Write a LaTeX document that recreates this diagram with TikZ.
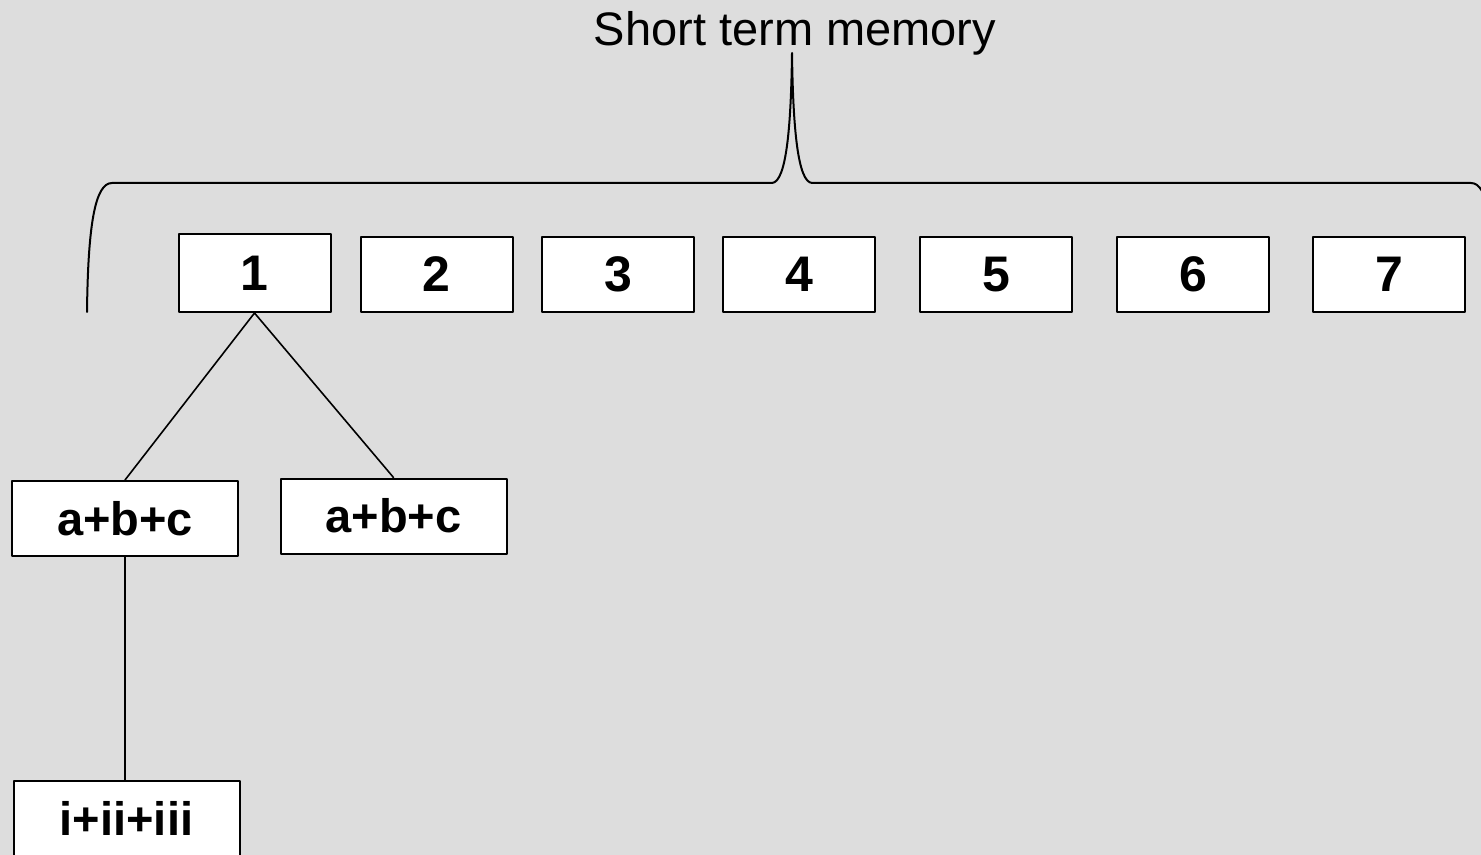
\documentclass[tikz,border=0pt]{standalone}
\usepackage{fontspec}
\setmainfont{Liberation Sans}
\definecolor{bg}{HTML}{DDDDDD}
\begin{document}
\begin{tikzpicture}[x=.5pt, y=-.5pt, line join=round, line cap=round,
    big/.style={font=\fontsize{23.5}{28}\selectfont},
    cell/.style={draw=black, line width=1pt, fill=white, inner sep=0pt,
        minimum width=76pt, minimum height=37.5pt, font=\fontsize{25}{30}\selectfont\bfseries},
    wide/.style={cell, minimum width=113pt, font=\fontsize{23.5}{28}\selectfont\bfseries},
    link/.style={line width=.8pt}]
\fill[bg] (0,0) rectangle (1481,855);
\useasboundingbox (0,0) rectangle (1481,855);
\node[big] (stm) at (795,33) {Short term memory};
% the seven slots
\node[cell, minimum height=39pt] (s1) at (254.5,273) {1};
\node[cell] (s2) at (436.5,274.5) {2};
\node[cell] (s3) at (618,274.5) {3};
\node[cell] (s4) at (799,274.5) {4};
\node[cell] (s5) at (996,274.5) {5};
\node[cell] (s6) at (1193,274.5) {6};
\node[cell] (s7) at (1389,274.5) {7};
% chunks under slot 1
\node[wide] (abcl) at (125,518.5) {a+b+c};
\node[wide] (abcr) at (393.5,516) {a+b+c};
\node[wide] (roman) at (126.5,818.5) {i+ii+iii};
\draw[link] (s1.south) -- (abcl.north) (s1.south) -- (abcr.north);
\draw[line width=1pt] (abcl.south) -- (abcl.south |- roman.north);
% brace over the slots
\draw[line width=1pt] (87,312) .. controls (88,225) and (95,183) .. (112,183) -- (772,183)
    .. controls (786,182) and (791,130) .. (792,53)
    .. controls (793,130) and (798,182) .. (812,183) -- (1471,183)
    .. controls (1488,183) and (1495,225) .. (1496,312);
\end{tikzpicture}
\end{document}
